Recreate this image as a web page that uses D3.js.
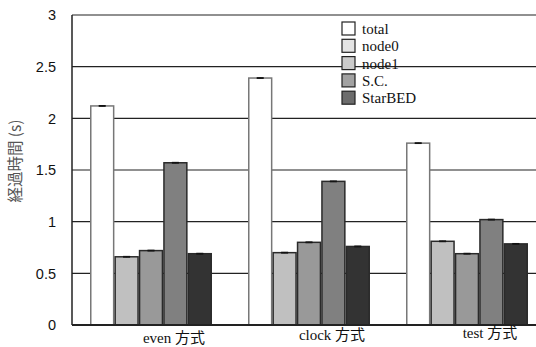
<!DOCTYPE html>
<html><head><meta charset="utf-8">
<script src="https://cdn.jsdelivr.net/npm/d3@7"></script>
<style>body{margin:0;background:#fff}</style>
</head><body>
<svg id="c" width="536" height="347"></svg>
<script>
const categories = ["even 方式", "clock 方式", "test 方式"];
const seriesNames = ["total", "node0", "node1", "S.C.", "StarBED"];
const total   = [2.12, 2.39, 1.76];
const node0   = [0.66, 0.70, 0.81];
const node1   = [0.72, 0.80, 0.69];
const sc      = [1.57, 1.39, 1.02];
const starbed = [0.69, 0.76, 0.785];
const errors  = [0.004, 0.004, 0.004];
const yTicks  = [0, 0.5, 1, 1.5, 2, 2.5, 3];
const yTitle  = "経過時間 (s)";

const seriesValues = [total, node0, node1, sc, starbed];
const barFill = ["#ffffff", "#c0c0c0", "#999999", "#808080", "#333333"];
const barStroke = ["#777777", "#2a2a2a", "#2a2a2a", "#2a2a2a", "#2a2a2a"];
const legendFill = ["#ffffff", "#e4e4e4", "#cbcbcb", "#a2a2a2", "#6c6c6c"];

const svg = d3.select("#c");
const mLeft = 72, mRight = 546, mTop = 15, mBottom = 325;

const x0 = d3.scaleBand().domain(categories).range([mLeft, mRight]).paddingInner(0.228).paddingOuter(0.114);
const x1 = d3.scaleBand().domain(seriesNames).range([0, x0.bandwidth()]);
const y = d3.scaleLinear().domain([0, 3]).range([mBottom, mTop]);

// gridlines
svg.append("g").selectAll("line").data(yTicks.filter(t => t > 0)).join("line")
  .attr("x1", mLeft).attr("x2", 536).attr("y1", d => y(d)).attr("y2", d => y(d))
  .attr("stroke", "#222").attr("stroke-width", 1.2);

// y axis labels
svg.append("g").selectAll("text").data(yTicks).join("text")
  .attr("x", 56).attr("y", d => y(d)).attr("dy", "0.36em")
  .attr("text-anchor", "end")
  .attr("font-family", "Liberation Sans, Arial, sans-serif").attr("font-size", 14.5)
  .attr("fill", "#111")
  .text(d => d3.format("")(d));

// bars
const data = [];
categories.forEach((c, i) => seriesNames.forEach((s, j) => data.push({c, s, j, v: seriesValues[j][i], e: errors[i]})));
const g = svg.append("g");
g.selectAll("rect").data(data).join("rect")
  .attr("x", d => x0(d.c) + x1(d.s) + 0.75)
  .attr("y", d => y(d.v))
  .attr("width", x1.bandwidth() - 1.5)
  .attr("height", d => y(0) - y(d.v))
  .attr("fill", d => barFill[d.j])
  .attr("stroke", d => barStroke[d.j]).attr("stroke-width", 1.5);

// error bars
const eb = svg.append("g").attr("stroke", "#111").attr("stroke-width", 1);
data.forEach(d => {
  const cx = x0(d.c) + x1(d.s) + x1.bandwidth() / 2;
  eb.append("line").attr("x1", cx).attr("x2", cx).attr("y1", y(d.v + d.e)).attr("y2", y(d.v - d.e));
  eb.append("line").attr("x1", cx - 3.5).attr("x2", cx + 3.5).attr("y1", y(d.v + d.e)).attr("y2", y(d.v + d.e));
  eb.append("line").attr("x1", cx - 3.5).attr("x2", cx + 3.5).attr("y1", y(d.v - d.e)).attr("y2", y(d.v - d.e));
});

// axes lines
svg.append("line").attr("x1", mLeft).attr("x2", mLeft).attr("y1", mTop).attr("y2", mBottom)
  .attr("stroke", "#222").attr("stroke-width", 1.5);
svg.append("line").attr("x1", mLeft).attr("x2", 536).attr("y1", mBottom).attr("y2", mBottom)
  .attr("stroke", "#222").attr("stroke-width", 2);

// x labels
const labelDy = [18, 15, 13];
svg.append("g").selectAll("text").data(categories).join("text")
  .attr("x", d => x0(d) + x0.bandwidth() / 2 + 23)
  .attr("y", (d, i) => mBottom + labelDy[i])
  .attr("text-anchor", "middle")
  .attr("font-family", "Liberation Serif, 'Noto Sans CJK JP', serif").attr("font-size", 15)
  .attr("fill", "#111")
  .text(d => d);

// y title
svg.append("text")
  .attr("transform", "translate(16,161) rotate(-90)")
  .attr("text-anchor", "middle").attr("dy", "0.35em")
  .attr("font-family", "'Noto Sans CJK JP', sans-serif").attr("font-size", 15.5)
  .attr("fill", "#555")
  .text(yTitle);

// legend
const lg = svg.append("g").attr("transform", "translate(342,22)");
seriesNames.forEach((s, i) => {
  const row = lg.append("g").attr("transform", `translate(0,${i * 17.3})`);
  row.append("rect").attr("x", 0).attr("y", 0).attr("width", 13).attr("height", 13)
    .attr("fill", legendFill[i]).attr("stroke", "#222").attr("stroke-width", 1.2);
  row.append("text").attr("x", 20).attr("y", 6.5).attr("dy", "0.36em")
    .attr("font-family", "Liberation Serif, serif").attr("font-size", 15)
    .attr("fill", "#111").text(s);
});
</script>
</body></html>
